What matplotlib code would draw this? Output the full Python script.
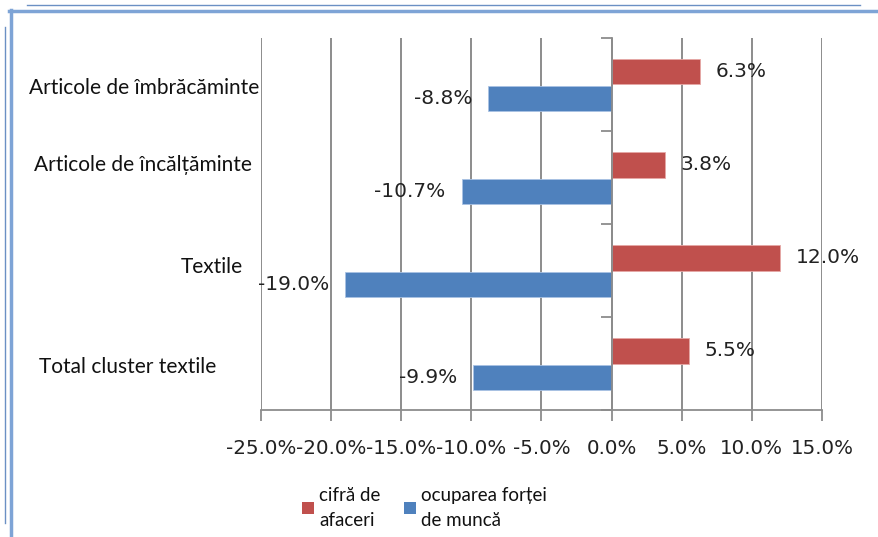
import numpy as np
import matplotlib
matplotlib.use('Agg')
import matplotlib.pyplot as plt
from matplotlib.lines import Line2D
from matplotlib.patches import Patch
import matplotlib.transforms as mtransforms

categories = ['Articole de îmbrăcăminte', 'Articole de încălțăminte',
              'Textile', 'Total cluster textile']
turnover = [6.3, 3.8, 12.0, 5.5]          # cifră de afaceri
employment = [-8.8, -10.7, -19.0, -9.9]   # ocuparea forței de muncă
series_names = ['cifră de\nafaceri', 'ocuparea forței\nde muncă']
x_ticks = [-25, -20, -15, -10, -5, 0, 5, 10, 15]

red = '#C0504D'
blue = '#4F81BD'
grid_col = '#8c8c8c'
W, H = 879, 537

fig = plt.figure(figsize=(W / 100, H / 100), dpi=100)
ax = fig.add_axes([261 / W, 1 - 410 / H, (822 - 261) / W, (410 - 38) / H])

y = np.arange(len(categories))
ax.barh(y - 0.135, turnover, height=0.27, color=red, edgecolor='#e6a8a6',
        linewidth=0.6, zorder=3, label=series_names[0])
ax.barh(y + 0.155, employment, height=0.27, color=blue, edgecolor='#a9c2e3',
        linewidth=0.6, zorder=3, label=series_names[1])

ax.set_xlim(-25, 15)
ax.set_ylim(3.5, -0.5)
ax.set_xticks(x_ticks)
ax.set_xticklabels(['%.1f%%' % v for v in x_ticks], fontsize=14.3,
                   color='#222222', family='DejaVu Sans')
ax.tick_params(axis='x', length=8, width=1.3, color=grid_col, pad=13)
ax.grid(axis='x', color=grid_col, linewidth=1.4, zorder=0)

# category axis sits at zero
ax.spines['left'].set_position(('data', 0))
ax.spines['left'].set_color(grid_col)
ax.spines['left'].set_linewidth(1.3)
ax.spines['left'].set_zorder(4)
ax.set_yticks(np.arange(-0.5, len(categories) + 0.5, 1.0))
ax.set_yticklabels([])
ax.tick_params(axis='y', length=8, width=1.3, color=grid_col, direction='out')
for s in ['top', 'right']:
    ax.spines[s].set_visible(False)
ax.spines['bottom'].set_color(grid_col)
ax.spines['bottom'].set_linewidth(1.3)

# category labels, placed as in the original
lab_x = [259, 252, 243, 216]
lab_dy = [0.04, -0.13, -0.04, 0.04]
trans = mtransforms.blended_transform_factory(fig.transFigure, ax.transData)
for i, c in enumerate(categories):
    ax.text(lab_x[i] / W, y[i] + lab_dy[i], c, transform=trans, ha='right',
            va='center', fontsize=15, family='Lato', color='#111111')

# value labels
for i in range(len(categories)):
    ax.annotate('%.1f%%' % turnover[i], (turnover[i], y[i] - 0.135),
                xytext=(16, 0), textcoords='offset pixels', ha='left',
                va='center', fontsize=14.5, color='#222222')
    ax.annotate('%.1f%%' % employment[i], (employment[i], y[i] + 0.155),
                xytext=(-16, 0), textcoords='offset pixels', ha='right',
                va='center', fontsize=14.5, color='#222222')

handles = [Patch(facecolor=red), Patch(facecolor=blue)]
leg = fig.legend(handles, series_names, loc='upper left',
                 bbox_to_anchor=(302 / W, 1 - 487 / H), ncol=2, frameon=False,
                 handlelength=0.62, handleheight=0.62, handletextpad=0.3,
                 columnspacing=1.25, borderpad=0, borderaxespad=0,
                 prop={'family': 'Lato', 'size': 13.5})
for t in leg.get_texts():
    t.set_color('#111111')
    t.set_linespacing(1.55)

# chart border from the screenshot
frame = '#7ea4d6'
fig.add_artist(Line2D([27 / W, 860 / W], [1 - 5 / H, 1 - 5 / H],
                      color='#6b90c4', lw=1.0, transform=fig.transFigure))
fig.add_artist(Line2D([9 / W, 1.0], [1 - 11 / H, 1 - 11 / H],
                      color=frame, lw=2.5, transform=fig.transFigure))
fig.add_artist(Line2D([11 / W, 11 / W], [0, 1 - 10 / H],
                      color=frame, lw=2.5, transform=fig.transFigure))
fig.add_artist(Line2D([5 / W, 5 / W], [1 - 523 / H, 1 - 27 / H],
                      color='#6b90c4', lw=1.0, transform=fig.transFigure))

fig.savefig('out.png', dpi=100)
